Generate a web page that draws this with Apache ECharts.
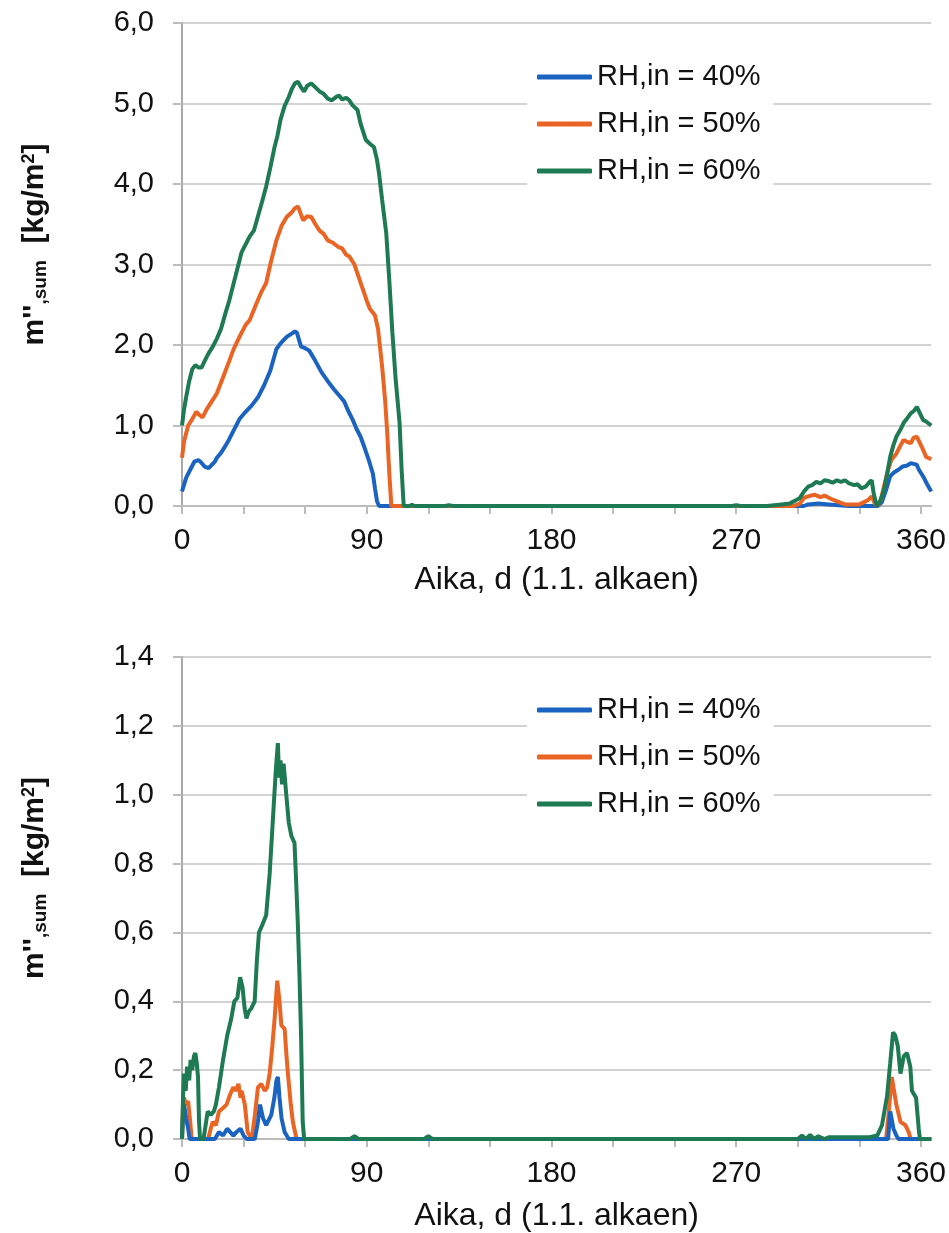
<!DOCTYPE html>
<html>
<head>
<meta charset="utf-8">
<script src="https://cdn.jsdelivr.net/npm/echarts@6/dist/echarts.min.js"></script>
<style>
  html, body { margin: 0; padding: 0; background: #fff; }
  #main { width: 949px; height: 1233px; }
</style>
</head>
<body>
<div id="main"></div>
<script>
// series names
var names = ['RH,in = 40%', 'RH,in = 50%', 'RH,in = 60%']
var colors = ['#1b63c0', '#ea6424', '#1e7a52']
var xTicks = [0, 90, 180, 270, 360]

// top chart, RH 40 %
var topDays40 = [0, 2, 4, 6, 8, 9, 11, 13, 16, 17, 19, 21, 23, 25, 28, 31, 34, 37, 40, 43, 46, 48, 51, 54, 55, 56, 58, 60, 62, 65, 68, 71, 74, 77, 79, 81, 83, 85, 87, 89, 91, 93, 94, 95, 96, 130, 200, 260, 303, 305, 310, 315, 320, 325, 339, 341, 343, 345, 347, 349, 351, 353, 355, 357, 358, 359, 361, 363, 365]
var topVals40 = [0.18, 0.35, 0.45, 0.55, 0.57, 0.55, 0.49, 0.47, 0.55, 0.6, 0.66, 0.74, 0.83, 0.93, 1.08, 1.17, 1.25, 1.35, 1.5, 1.68, 1.95, 2.02, 2.1, 2.15, 2.17, 2.15, 1.98, 1.96, 1.93, 1.8, 1.66, 1.55, 1.45, 1.36, 1.3, 1.18, 1.08, 0.96, 0.86, 0.72, 0.57, 0.4, 0.22, 0.06, 0, 0, 0, 0, 0, 0.02, 0.03, 0.02, 0.01, 0, 0, 0.05, 0.2, 0.37, 0.42, 0.45, 0.49, 0.5, 0.53, 0.52, 0.51, 0.45, 0.37, 0.27, 0.18]

// top chart, RH 50 %
var topDays50 = [0, 1, 3, 5, 7, 8.5, 10, 12, 14.5, 17, 20, 23, 25, 28, 31, 33, 36, 38.5, 41, 43, 46, 48.5, 51, 53.5, 55, 56.5, 58, 59, 61, 63, 65, 67, 69, 71, 73.5, 76, 78, 80, 81.5, 84, 86, 88, 90, 91.5, 94, 95.5, 97.5, 99, 100, 101, 102, 150, 250, 298, 301, 303, 305, 308, 311, 313, 316, 318, 321, 323, 330, 334, 336, 337.5, 339, 340.5, 342, 344, 345.5, 348, 350, 351.5, 353, 355, 356.5, 358, 359.5, 361, 362.5, 365]
var topVals50 = [0.6, 0.8, 1.0, 1.08, 1.17, 1.13, 1.1, 1.2, 1.3, 1.4, 1.6, 1.8, 1.94, 2.1, 2.25, 2.31, 2.5, 2.65, 2.77, 3.0, 3.3, 3.48, 3.59, 3.65, 3.7, 3.72, 3.62, 3.55, 3.6, 3.59, 3.5, 3.42, 3.38, 3.3, 3.27, 3.22, 3.2, 3.12, 3.1, 3.0, 2.85, 2.7, 2.55, 2.45, 2.37, 2.2, 1.73, 1.3, 0.9, 0.4, 0, 0, 0, 0, 0.03, 0.1, 0.12, 0.14, 0.11, 0.13, 0.09, 0.07, 0.04, 0.02, 0.02, 0.07, 0.12, 0.03, 0, 0.08, 0.25, 0.45, 0.57, 0.65, 0.75, 0.82, 0.8, 0.78, 0.85, 0.86, 0.78, 0.7, 0.61, 0.58]

// top chart, RH 60 %
var topDays60 = [0, 1, 2, 3.5, 5, 6.5, 8, 9.5, 11, 13, 15, 17, 19, 21, 23, 25, 27, 29, 31, 33, 35, 37, 39, 41, 43, 45, 46.5, 48, 50, 52, 53.5, 55, 56.5, 58, 59.5, 61, 63, 65, 67, 69, 71, 73, 75, 76.5, 78, 80, 81.5, 83, 85.5, 87, 89.5, 91.5, 93.5, 95, 96, 97.5, 99.5, 101, 102.5, 104, 106, 107, 108, 111, 112, 113, 128, 130, 132, 200, 268, 270, 272, 285, 292, 296, 299, 301, 303, 305, 307, 309, 311, 313, 315, 317, 319, 321, 323, 325, 327.5, 329, 331, 333, 335, 336, 337, 338.5, 340, 342, 343.5, 345, 346.5, 348, 350, 351.5, 353, 355, 356.5, 358, 359.5, 361, 362.5, 365]
var topVals60 = [1.0, 1.2, 1.35, 1.55, 1.7, 1.75, 1.72, 1.72, 1.8, 1.9, 1.98, 2.08, 2.2, 2.38, 2.55, 2.75, 2.95, 3.15, 3.25, 3.35, 3.42, 3.6, 3.78, 3.97, 4.2, 4.45, 4.6, 4.8, 4.97, 5.08, 5.18, 5.25, 5.27, 5.2, 5.15, 5.22, 5.25, 5.2, 5.15, 5.12, 5.06, 5.04, 5.08, 5.1, 5.05, 5.07, 5.04, 4.98, 4.92, 4.75, 4.55, 4.5, 4.46, 4.3, 4.13, 3.8, 3.39, 2.8, 2.15, 1.6, 1.03, 0.45, 0, 0, 0.015, 0, 0, 0.01, 0, 0, 0, 0.01, 0, 0, 0.02, 0.03, 0.07, 0.1, 0.18, 0.24, 0.26, 0.3, 0.28, 0.32, 0.31, 0.29, 0.32, 0.3, 0.32, 0.28, 0.26, 0.27, 0.22, 0.24, 0.3, 0.32, 0.15, 0, 0.05, 0.2, 0.4, 0.61, 0.75, 0.86, 0.95, 1.03, 1.08, 1.15, 1.18, 1.23, 1.15, 1.07, 1.05, 1.0]

// bottom chart, RH 40 %
var botDays40 = [0, 0.5, 1, 2, 3, 3.7, 16, 18, 20, 22, 23.5, 25, 26.5, 28.5, 30, 31.5, 35.5, 37, 38, 39.5, 41, 43.5, 45, 46, 46.7, 47.5, 48.5, 50, 51, 52, 344, 345, 345.8, 346.6, 348, 349, 365]
var botVals40 = [0, 0.07, 0.1, 0.06, 0.03, 0, 0, 0.02, 0.01, 0.03, 0.02, 0.01, 0.02, 0.03, 0.01, 0, 0, 0.05, 0.1, 0.06, 0.04, 0.07, 0.12, 0.17, 0.18, 0.12, 0.06, 0.02, 0.01, 0, 0, 0.08, 0.085, 0.03, 0.01, 0, 0]

// bottom chart, RH 50 %
var botDays50 = [0, 0.5, 1, 2, 3, 4, 4.7, 12.7, 14, 15, 16.5, 18, 20, 21.7, 23.5, 25, 26.3, 27.5, 28.5, 29, 30.6, 32, 34, 35.5, 37, 38.6, 40.3, 41.5, 42.7, 44, 45, 46.4, 47.5, 48.4, 50, 50.8, 51.6, 53, 54, 55.8, 343, 344, 345.8, 346.6, 348, 350, 352.4, 354, 355, 365]
var botVals50 = [0, 0.1, 0.12, 0.1, 0.11, 0.05, 0, 0, 0.03, 0.05, 0.04, 0.08, 0.09, 0.1, 0.13, 0.15, 0.14, 0.16, 0.12, 0.14, 0.1, 0.02, 0, 0.07, 0.15, 0.16, 0.14, 0.15, 0.19, 0.27, 0.34, 0.46, 0.4, 0.33, 0.32, 0.25, 0.19, 0.1, 0.05, 0, 0, 0.06, 0.18, 0.15, 0.1, 0.05, 0.04, 0.02, 0, 0]

// bottom chart, RH 60 %
var botDays60 = [0, 0.5, 1, 1.8, 2.5, 3.5, 4.2, 5, 5.8, 6.5, 7.2, 7.8, 8.3, 8.8, 10.5, 11.5, 12.5, 14, 15.5, 16.5, 18, 20, 22, 24, 25.5, 27, 28.3, 29.5, 30.5, 31.4, 32.5, 33.8, 35.4, 36.5, 37.5, 39, 41, 42.7, 44, 45, 45.8, 46.7, 47.3, 48, 48.7, 49.5, 50.8, 52, 53.3, 54.8, 55.6, 56.4, 57.2, 58, 58.8, 59.5, 82, 84, 86, 118, 120, 122, 300, 302, 304, 306, 308, 310, 313, 315, 335, 338.7, 341, 343.5, 345, 346.4, 347.5, 348.7, 350, 351.6, 353.2, 354.8, 355.6, 357.6, 358.9, 359.5, 365]
var botVals60 = [0, 0.12, 0.19, 0.14, 0.21, 0.17, 0.23, 0.2, 0.24, 0.25, 0.22, 0.18, 0.05, 0, 0, 0.04, 0.08, 0.07, 0.08, 0.1, 0.15, 0.23, 0.3, 0.35, 0.4, 0.41, 0.47, 0.44, 0.38, 0.35, 0.37, 0.38, 0.4, 0.52, 0.6, 0.62, 0.65, 0.77, 0.9, 1.0, 1.08, 1.15, 1.05, 1.1, 1.03, 1.09, 1.0, 0.92, 0.88, 0.86, 0.75, 0.63, 0.48, 0.3, 0.05, 0, 0, 0.008, 0, 0, 0.008, 0, 0, 0.01, 0, 0.012, 0, 0.008, 0, 0.005, 0.005, 0.01, 0.04, 0.125, 0.22, 0.31, 0.3, 0.27, 0.19, 0.24, 0.25, 0.21, 0.14, 0.12, 0.03, 0, 0]

function pairs(days, vals) {
  var out = []
  for (var i = 0; i < days.length; i++) {
    out.push([days[i], vals[i]])
  }
  return out
}

var font = 'Liberation Sans, Arial, sans-serif'
var gridColor = '#d3d3d3'

function commaLabel(v) {
  return v.toFixed(1).replace('.', ',')
}

var yName = "{b|m''}{s|,sum}{b|  [kg/m}{p|2}{b|]}"
var yNameStyle = {
  padding: [0, 0, 0, 40],
  rich: {
    b: { fontSize: 30, fontWeight: 'bold', color: '#111', fontFamily: font },
    s: { fontSize: 19, fontWeight: 'bold', color: '#111', fontFamily: font, verticalAlign: 'bottom' },
    p: { fontSize: 18, fontWeight: 'bold', color: '#111', fontFamily: font, verticalAlign: 'top' }
  }
}

function makeX(gridIndex, gap) {
  return {
    gridIndex: gridIndex,
    type: 'value',
    min: 0,
    max: 365,
    interval: 90,
    name: 'Aika, d (1.1. alkaen)',
    nameLocation: 'middle',
    nameGap: gap,
    nameTextStyle: { fontSize: 32, color: '#111', fontFamily: font },
    axisLine: { show: true, lineStyle: { color: '#bcbcbc', width: 2 } },
    axisTick: {
      show: true,
      length: 8,
      customValues: [0, 30, 60, 90, 120, 150, 180, 210, 240, 270, 300, 330, 360],
      lineStyle: { color: '#bcbcbc', width: 2 }
    },
    axisLabel: {
      customValues: xTicks,
      margin: 20,
      fontSize: 30,
      color: '#111',
      fontFamily: font
    },
    splitLine: { show: false }
  }
}

function makeY(gridIndex, max, step) {
  return {
    gridIndex: gridIndex,
    type: 'value',
    min: 0,
    max: max,
    interval: step,
    name: yName,
    nameLocation: 'middle',
    nameRotate: 90,
    nameGap: 132,
    nameTextStyle: yNameStyle,
    axisLine: { show: true, lineStyle: { color: '#a8a8a8', width: 2 } },
    axisTick: { show: true, length: 9, lineStyle: { color: '#bcbcbc', width: 2 } },
    axisLabel: {
      margin: 28,
      fontSize: 29,
      color: '#111',
      fontFamily: font,
      formatter: commaLabel
    },
    splitLine: { show: true, lineStyle: { color: gridColor, width: 2 } }
  }
}

function makeLegend(top) {
  return {
    data: names.map(function (n) { return { name: n, icon: 'roundRect' } }),
    orient: 'vertical',
    left: 527,
    top: top,
    padding: [8, 13, 8, 10],
    backgroundColor: '#fff',
    itemWidth: 55,
    itemHeight: 5,
    itemGap: 17,
    textStyle: { fontSize: 29, color: '#111', fontFamily: font, lineHeight: 30 }
  }
}

function line(name, color, data, idx) {
  return {
    name: name,
    type: 'line',
    xAxisIndex: idx,
    yAxisIndex: idx,
    data: data,
    symbol: 'none',
    showSymbol: false,
    smooth: false,
    lineStyle: { color: color, width: 4 },
    itemStyle: { color: color }
  }
}

var myChart = echarts.init(document.getElementById('main'))
var option = {
  animation: false,
  backgroundColor: '#fff',
  textStyle: { fontFamily: font },
  grid: [
    { left: 182, top: 23, width: 752, height: 483 },
    { left: 182, top: 657, width: 752, height: 483 }
  ],
  legend: [makeLegend(54), makeLegend(687)],
  xAxis: [makeX(0, 58), makeX(1, 61)],
  yAxis: [makeY(0, 6, 1), makeY(1, 1.4, 0.2)],
  series: [
    line(names[0], colors[0], pairs(topDays40, topVals40), 0),
    line(names[1], colors[1], pairs(topDays50, topVals50), 0),
    line(names[2], colors[2], pairs(topDays60, topVals60), 0),
    line(names[1], colors[1], pairs(botDays50, botVals50), 1),
    line(names[0], colors[0], pairs(botDays40, botVals40), 1),
    line(names[2], colors[2], pairs(botDays60, botVals60), 1)
  ]
}
myChart.setOption(option)
</script>
</body>
</html>
